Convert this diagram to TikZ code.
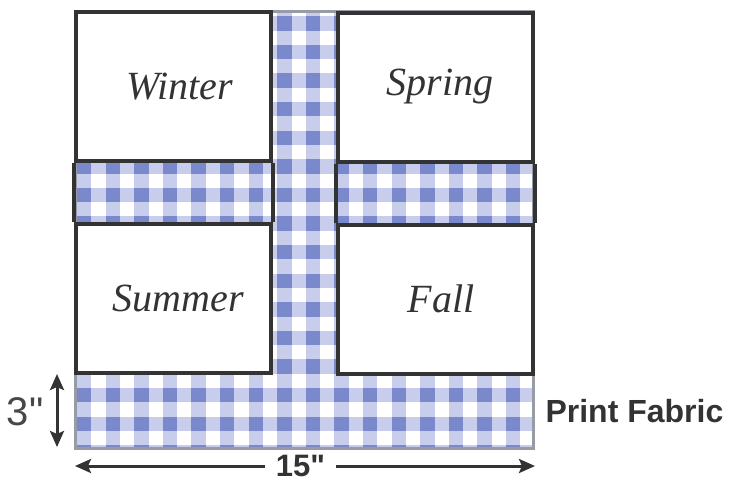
\documentclass[tikz,border=0pt]{standalone}
\usepackage{fontspec}
\newfontfamily\dimfont{Liberation Sans}
\newfontfamily\seasonfont{Liberation Serif}
\usetikzlibrary{arrows.meta}
\definecolor{checklight}{RGB}{199,205,235}
\definecolor{checkdark}{RGB}{122,137,204}
\definecolor{boxline}{RGB}{51,51,51}
\definecolor{fabricedge}{RGB}{150,155,165}
\begin{document}
\begin{tikzpicture}[x=1pt,y=-1pt,
    season/.style={draw=boxline,line width=4pt,fill=white,minimum width=195pt,
                   minimum height=149pt,inner sep=0pt,text=boxline,
                   font=\seasonfont\itshape\fontsize{40}{44}\selectfont},
    dim/.style={boxline,line width=3pt,
                {Stealth[length=16pt,width=14pt,inset=3pt]}-{Stealth[length=16pt,width=14pt,inset=3pt]}}]
  \useasboundingbox (0,0) rectangle (729,483);
  \node[minimum width=457pt,minimum height=436pt,inner sep=0pt] (fabric) at (304.5,230) {};
  \begin{scope}
     \clip (fabric.north west) rectangle (fabric.south east);
     \foreach \i in {0,...,15}
        \fill[checklight] ({77+28.6*\i},0) rectangle +(14.3,460);
     \foreach \j in {0,...,15}
        \fill[checklight] (60,{16.2+28.6*\j}) rectangle +(490,14.3);
     \foreach \i in {0,...,15}
        \foreach \j in {0,...,15}
           \fill[checkdark] ({77+28.6*\i},{16.2+28.6*\j}) rectangle +(14.3,14.3);
  \end{scope}
  \draw[fabricedge,line width=3pt] (fabric.north west) rectangle (fabric.south east);
  \node[season] (winter) at (173.5,86.5)  {\hspace*{12pt}Winter};
  \node[season] (summer) at (173.5,298.5) {\hspace*{10pt}Summer};
  \node[season] (spring) at (435,87)      {\hspace*{10pt}Spring};
  \node[season] (fall)   at (435,299)     {\hspace*{12pt}Fall};
  \draw[boxline,line width=4pt] (winter.south west) -- (summer.north west);
  \draw[boxline,line width=4pt] (winter.south east) -- (summer.north east);
  \draw[boxline,line width=4pt] (spring.south west) -- (fall.north west);
  \draw[boxline,line width=4pt] (spring.south east) -- (fall.north east);
  \coordinate (htop) at (57,374);
  \coordinate (hbot) at (57,447);
  \coordinate (wleft)  at (75,466);
  \coordinate (wright) at (535,466);
  \draw[dim] (htop) -- (hbot);
  \draw[dim] (wleft) -- node[pos=0.49,fill=white,inner xsep=11pt,inner ysep=0pt,text=boxline,
        font=\dimfont\bfseries\fontsize{31}{32}\selectfont] (width) {15"} (wright);
  \node[text=boxline!90!white,font=\dimfont\fontsize{40}{42}\selectfont] (height) at (25,412) {3"};
  \node[anchor=west,text=boxline,font=\dimfont\bfseries\fontsize{32}{34}\selectfont] (print) at (542,411) {Print Fabric};
\end{tikzpicture}
\end{document}
